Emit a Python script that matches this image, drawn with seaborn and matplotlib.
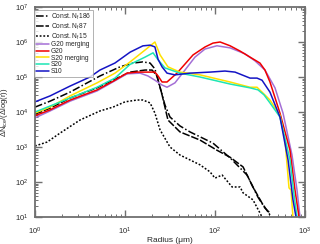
import matplotlib
matplotlib.use("Agg")
import matplotlib.pyplot as plt
import matplotlib.ticker as mticker
import seaborn as sns
import numpy as np

# Size distributions of ice particles
r_c186 = [1.0, 1.47, 2.45, 5.27, 8.8, 12.3, 15.8, 19.0, 21.5, 24.5, 27.8, 31.6,
          40.8, 52.7, 95.0, 147, 227, 300, 359, 408]
n_c186 = [1.38e4, 2.04e4, 3.7e4, 1.07e5, 1.95e5, 2.5e5, 2.7e5, 2.5e5, 1.7e5, 5.1e4,
          1.58e4, 7.2e3, 4.0e3, 2.7e3, 1.29e3, 4.9e2, 1.58e2, 37, 18, 13]

r_c87 = [1.0, 1.47, 2.45, 4.89, 7.74, 11.4, 16.7, 20.0, 22.7, 25.8, 30.0, 40.8,
         68.1, 105, 147, 205, 264, 333, 408]
n_c87 = [8.7e3, 1.29e4, 2.5e4, 4.9e4, 8.7e4, 1.38e5, 1.58e5, 1.58e5, 1.07e5, 3.1e4,
         5.9e3, 2.7e3, 1.58e3, 8.1e2, 5.1e2, 2.7e2, 72, 25, 11.5]

r_c15 = [1.0, 1.36, 1.9, 3.16, 5.27, 7.36, 10.0, 13.6, 15.8, 19.0, 21.5, 24.5,
         31.6, 40.8, 68.1, 88.0, 100, 120, 155, 190, 205, 264, 316, 333]
n_c15 = [1.07e3, 1.38e3, 2.5e3, 5.9e3, 1.07e4, 1.38e4, 1.95e4, 2.2e4, 2.2e4, 1.82e4,
         9.3e3, 3.1e3, 1.0e3, 5.9e2, 3.1e2, 1.95e2, 1.29e2, 1.58e2, 72, 72, 49, 31,
         13, 10]

r_g20m = [1.0, 1.47, 2.45, 4.89, 7.74, 10.5, 14.7, 18.0, 21.5, 25.8, 29.3, 35.9,
          46.4, 59.9, 77.4, 105, 147, 215, 278, 359, 464, 570, 717, 815, 880]
n_g20m = [6.8e3, 1.07e4, 2.04e4, 4.0e4, 7.8e4, 1.23e5, 1.29e5, 1.07e5, 8.1e4, 5.9e4,
          5.1e4, 6.8e4, 1.58e5, 3.7e5, 6.3e5, 7.8e5, 6.8e5, 4.6e5, 2.9e5, 1.58e5,
          4.9e4, 9.3e3, 5.9e2, 59, 10]

r_g20 = [1.0, 1.47, 2.45, 4.89, 7.74, 10.5, 13.6, 18.0, 21.5, 23.3, 25.8, 29.3,
         37.8, 57.0, 77.4, 95.0, 114, 147, 190, 245, 316, 359, 408, 527, 681, 774, 858]
n_g20 = [7.8e3, 1.15e4, 2.19e4, 4.27e4, 8.1e4, 1.29e5, 1.38e5, 1.38e5, 1.38e5,
         1.07e5, 7.2e4, 7.2e4, 1.29e5, 4.27e5, 7.2e5, 9.3e5, 1.0e6, 7.8e5, 5.5e5,
         3.7e5, 2.5e5, 1.58e5, 7.2e4, 9.3e3, 8.1e2, 59, 10]

r_s20m = [1.0, 1.47, 2.45, 4.89, 7.74, 11.4, 16.7, 21.5, 24.5, 30.0, 40.8, 68.1,
          147, 245, 293, 333, 408, 527, 599, 664, 699, 735]
n_s20m = [9.3e3, 1.38e4, 2.88e4, 6.8e4, 1.29e5, 2.7e5, 5.9e5, 1.0e6, 4.3e5, 1.95e5,
          1.38e5, 1.15e5, 7.2e4, 5.1e4, 5.1e4, 3.7e4, 2.2e4, 8.1e3, 1.6e3, 68, 59, 10]

r_s20 = [1.0, 1.47, 2.45, 4.89, 7.74, 11.4, 16.7, 20.5, 23.3, 27.8, 40.8, 68.1,
         147, 245, 300, 350, 408, 527, 681, 755, 815]
n_s20 = [1.0e4, 1.48e4, 2.5e4, 5.1e4, 9.3e4, 2.3e5, 3.7e5, 4.9e5, 3.1e5, 1.82e5,
         1.29e5, 1.0e5, 6.3e4, 4.9e4, 4.3e4, 3.1e4, 1.82e4, 7.2e3, 4.3e2, 43, 10]

r_s10 = [1.0, 1.47, 2.45, 4.08, 5.27, 7.74, 11.4, 15.8, 19.0, 21.5, 23.3, 25.8,
         29.3, 35.9, 52.7, 88.0, 129, 167, 245, 293, 333, 408, 527, 648, 735, 794]
n_s10 = [1.95e4, 2.88e4, 5.5e4, 1.0e5, 1.58e5, 2.51e5, 5.13e5, 7.76e5, 8.13e5, 7.24e5,
         3.2e5, 1.95e5, 1.29e5, 1.15e5, 1.29e5, 1.38e5, 1.48e5, 1.38e5, 9.3e4, 9.3e4,
         8.1e4, 3.7e4, 7.2e3, 4.3e2, 31, 10]

x_ticks = [1, 10, 100, 1000]
y_ticks = [10, 1e2, 1e3, 1e4, 1e5, 1e6, 1e7]

sns.set_style("ticks")
plt.rcParams['font.family'] = ['Liberation Sans', 'DejaVu Sans']
plt.rcParams['mathtext.default'] = 'regular'

fig = plt.figure(figsize=(3.2, 2.44), dpi=100)
ax = fig.add_axes([35 / 320, 1 - 217 / 244, 270 / 320, 210 / 244])

series = [
    (r_c186, n_c186, 'black', (0, (5, 1.5, 1, 1.5)), r'Const. N$_f$186'),
    (r_c87, n_c87, 'black', (0, (5, 1.2)), r'Const. N$_f$87'),
    (r_c15, n_c15, 'black', (0, (1.2, 1.2)), r'Const. N$_f$15'),
    (r_g20m, n_g20m, '#a46fd6', '-', 'G20 merging'),
    (r_g20, n_g20, '#f00000', '-', 'G20'),
    (r_s20m, n_s20m, '#ffe100', '-', 'S20 merging'),
    (r_s20, n_s20, '#1de6b4', '-', 'S20'),
    (r_s10, n_s10, '#1414c4', '-', 'S10'),
]
for r, n, c, ls, lab in series:
    sns.lineplot(x=r, y=n, ax=ax, color=c, linestyle=ls, lw=1.1, label=lab,
                 sort=False, estimator=None)

ax.set_xscale('log')
ax.set_yscale('log')
ax.set_xlim(1, 1000)
ax.set_ylim(10, 1e7)

ax.xaxis.set_major_locator(mticker.FixedLocator(x_ticks))
ax.yaxis.set_major_locator(mticker.FixedLocator(y_ticks))
ax.xaxis.set_major_formatter(mticker.LogFormatterSciNotation())
ax.yaxis.set_major_formatter(mticker.LogFormatterSciNotation())
ax.xaxis.set_minor_locator(mticker.LogLocator(base=10, subs=np.arange(2, 10)))
ax.yaxis.set_minor_locator(mticker.LogLocator(base=10, subs=np.arange(2, 10)))
ax.xaxis.set_minor_formatter(mticker.NullFormatter())
ax.yaxis.set_minor_formatter(mticker.NullFormatter())
ax.tick_params(which='both', direction='in', top=True, right=True, color='#707070')
ax.tick_params(which='major', length=5, width=1.0, labelsize=5.5)
ax.tick_params(which='minor', length=2.5, width=0.7)
ax.tick_params(axis='x', which='major', pad=6)
ax.tick_params(axis='y', which='major', pad=5)
for sp in ax.spines.values():
    sp.set_color('#707070')
    sp.set_linewidth(1.3)

ax.set_xlabel('Radius (μm)', fontsize=6, labelpad=0)
ax.set_ylabel(r'$\Delta$N$_{ice}$/($\Delta$log(r))', fontsize=5.5, labelpad=3)

leg = ax.legend(loc='upper left', bbox_to_anchor=(-0.005, 0.987), fontsize=4.8,
                frameon=True, fancybox=False, edgecolor='#909090',
                handlelength=2.0, handletextpad=0.3, labelspacing=-0.05,
                borderpad=0.3, borderaxespad=0)
leg.get_frame().set_linewidth(0.6)

fig.savefig('out.png', dpi=100)
